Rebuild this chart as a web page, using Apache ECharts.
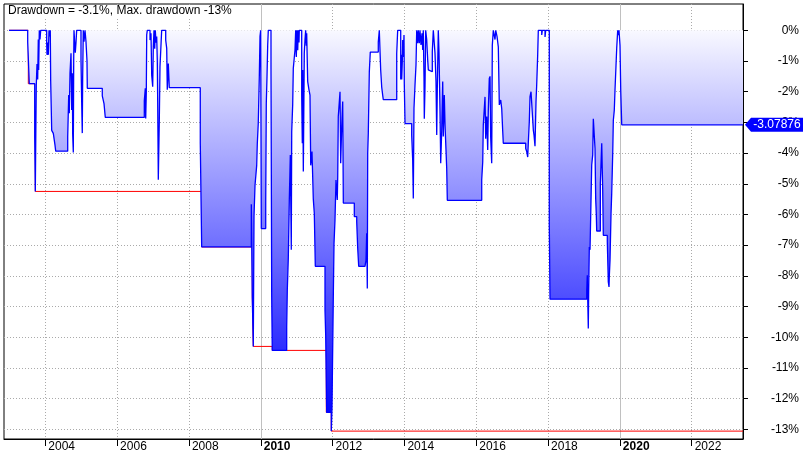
<!DOCTYPE html>
<html><head><meta charset="utf-8">
<script src="https://cdn.jsdelivr.net/npm/echarts@6/dist/echarts.min.js"></script>
<style>html,body{margin:0;padding:0;background:#fff}#c{width:809px;height:459px}</style>
</head><body><div id="c"></div>
<script>
const titleText = 'Drawdown = -3.1%, Max. drawdown -13%';
const yearTicks = [2004, 2006, 2008, 2010, 2012, 2014, 2016, 2018, 2020, 2022];
const decadeYears = [2010, 2020];
const pctTicks = [0, -1, -2, -3, -4, -5, -6, -7, -8, -9, -10, -11, -12, -13];

const ddDates = [
2002.989,2003.510,2003.554,2003.705,2003.722,2003.735,2003.749,2003.769,2003.788,2003.805,2003.816,2003.833,2003.852,2003.872,
2004.039,2004.047,2004.067,2004.084,2004.103,2004.123,2004.139,2004.150,2004.178,2004.223,2004.270,2004.290,2004.624,2004.652,
2004.668,2004.688,2004.716,2004.735,2004.752,2004.763,2004.780,2004.791,2004.799,2004.819,2004.835,2004.855,2004.874,2004.994,
2005.014,2005.030,2005.041,2005.058,2005.078,2005.106,2005.133,2005.161,2005.170,2005.587,2005.635,2005.671,2006.757,2006.785,
2006.796,2006.813,2006.824,2006.840,2006.916,2006.943,2006.963,2006.991,2007.008,2007.027,2007.047,2007.063,2007.083,2007.102,
2007.119,2007.130,2007.147,2007.175,2007.194,2007.241,2007.353,2007.381,2007.397,2007.425,2007.453,2008.316,2008.355,2009.737,
2009.764,2009.792,2009.812,2009.840,2009.887,2009.904,2009.931,2009.959,2009.979,2009.998,2010.015,2010.138,2010.154,2010.174,
2010.193,2010.210,2010.285,2010.305,2010.321,2010.722,2010.739,2010.767,2010.795,2010.823,2010.850,2010.862,2010.889,2010.906,
2010.953,2010.973,2010.990,2011.009,2011.029,2011.045,2011.065,2011.073,2011.140,2011.157,2011.168,2011.185,2011.212,2011.232,
2011.251,2011.268,2011.279,2011.307,2011.343,2011.371,2011.391,2011.427,2011.463,2011.491,2011.519,2011.789,2011.808,2011.836,
2011.964,2011.984,2012.020,2012.040,2012.067,2012.095,2012.131,2012.143,2012.159,2012.207,2012.226,2012.254,2012.282,2012.299,
2012.605,2012.672,2012.700,2012.727,2012.903,2012.931,2012.950,2012.967,2012.978,2012.995,2013.023,2013.050,2013.273,2013.301,
2013.340,2013.368,2013.396,2013.412,2013.786,2013.813,2013.897,2013.914,2013.925,2013.942,2013.953,2013.969,2013.989,2013.997,
2014.017,2014.203,2014.231,2014.248,2014.267,2014.295,2014.323,2014.343,2014.370,2014.387,2014.415,2014.434,2014.462,2014.490,
2014.510,2014.526,2014.546,2014.554,2014.574,2014.593,2014.621,2014.649,2014.666,2014.693,2014.777,2014.805,2014.852,2014.880,
2014.900,2014.916,2014.944,2014.964,2014.991,2015.011,2015.039,2015.067,2015.083,2015.111,2015.131,2015.178,2015.195,2016.153,
2016.181,2016.197,2016.245,2016.264,2016.292,2016.320,2016.336,2016.364,2016.384,2016.403,2016.431,2016.448,2016.476,2016.523,
2016.543,2016.579,2016.615,2016.643,2016.682,2016.710,2016.738,2016.754,2017.378,2017.406,2017.434,2017.450,2017.478,2017.498,
2017.526,2017.573,2017.590,2017.609,2017.637,2017.665,2017.684,2017.712,2017.729,2017.824,2017.840,2017.916,2017.935,2018.035,
2018.055,2019.077,2019.093,2019.121,2019.132,2019.141,2019.149,2019.169,2019.216,2019.244,2019.261,2019.288,2019.308,2019.327,
2019.344,2019.355,2019.456,2019.467,2019.495,2019.522,2019.539,2019.650,2019.678,2019.698,2019.706,2019.726,2019.754,2019.773,
2019.801,2019.818,2019.845,2019.865,2019.893,2019.912,2019.940,2019.957,2019.976,2020.004,2020.024,2020.052,2023.429
];
const ddValues = [
0,-0.38,-1.74,-3.48,-5.25,-3.48,-1.78,-1.1,-1.6,-0.3,-1.29,0,-0.3,0,
-0.4,-0.8,-0.4,-0.8,0,-0.2,0,-1.65,-3.26,-3.36,-3.74,-3.94,-3.48,-2.11,
-2.7,-1.4,-0.75,-2.6,-1.4,-3.41,-3.98,-1.0,0,-0.42,-0.73,-0.4,0,-0.97,
-2.4,-3.35,-1.5,0,-0.37,0,-0.37,-0.99,-1.89,-2.14,-2.39,-2.84,-2.3,-1.89,
-2.87,-2.0,-0.15,0,-0.32,-0.1,-1.46,-1.84,-0.53,0,-0.6,0,-0.4,-0.2,
-1.0,-2.32,-4.87,-2.92,-1.19,0,-0.32,-0.59,-1.94,-1.08,-1.87,-3.68,-7.06,-5.67,
-8.69,-10.3,-6.07,-5.05,-4.4,-3.68,-3.02,-1.55,-0.2,0,-6.46,-5.62,-2.38,-1.51,
-0.5,0,-1.25,-8.69,-10.43,-9.66,-8.47,-7.43,-5.54,-4.06,-7.15,-3.3,-2.43,-1.24,
-0.64,0,-0.87,0,-0.65,0,-0.4,0,-2.11,-3.68,-1.29,-4.6,-0.75,-0.3,
0,-0.5,-0.1,-1.67,-1.94,-2.11,-4.4,-3.95,-5.5,-5.96,-7.69,-9.12,-9.93,-12.45,
-13.06,-12.3,-8.69,-6.94,-6.19,-4.88,-5.53,-4.77,-2.81,-2.0,-4.33,-3.14,-2.32,-5.63,
-6.07,-6.24,-7.11,-7.69,-7.72,-7.48,-6.61,-8.41,-4.0,-3.35,-1.36,-0.71,-0.38,0,
-1.3,-1.85,-2.12,-2.26,-0.75,0,-1.6,-0.8,-1.6,-1.0,-0.32,-0.87,-0.15,-1.73,
-3.04,-3.41,-4.23,-5.48,-2.54,-1.79,-1.13,0,-0.42,0,-0.42,0,-0.48,-0.1,
-0.64,0,-1.56,-2.88,-1.84,0,-0.3,-0.97,-1.29,-1.35,-0.71,0,-0.75,-1.67,
-3.41,-1.94,0,-0.75,-2.6,-4.33,-3.27,-1.67,-3.46,-2.11,-3.08,-4.5,-5.54,-4.87,
-4.29,-3.09,-2.17,-3.53,-2.81,-3.9,-2.65,-1.57,-1.5,-3.5,-4.33,-0.49,0,-0.3,
0,-0.2,-0.54,-2.43,-2.27,-2.55,-3.3,-3.68,-3.85,-3.95,-4.13,-3.68,-2.98,-2.16,
-2.0,-2.92,-3.25,-3.41,-3.78,-2.32,-1.78,-0.8,0,-0.15,0,-0.22,0,-6.35,
-8.76,-8.46,-7.98,-9.72,-8.5,-7.76,-7.06,-7.15,-4.39,-4.06,-2.88,-2.82,-3.85,-5.5,
-6.01,-6.54,-5.0,-4.66,-3.68,-5.2,-6.68,-6.88,-8.2,-8.36,-8.02,-7.49,-5.97,-5.32,
-4.02,-2.93,-2.6,-1.94,-1.14,-0.59,0,-0.16,0,-0.49,-1.95,-3.07876,-3.07876
];

const maxDdDates = [2002.989, 2003.527, 2003.722, 2008.355, 2009.764, 2009.792, 2010.321, 2011.825, 2011.964, 2023.429];
const maxDdValues = [0, -1.74, -5.25, -7.06, -8.69, -10.3, -10.43, -12.45, -13.06, -13.06];

const X_MIN = 2002.85, X_MAX = 2023.429;
const Y_MIN = -13.317, Y_MAX = 0.857;
const FONT = '"Liberation Sans", Arial, Helvetica, sans-serif';

const ddData = ddDates.map((d, i) => [d, ddValues[i]]);
const maxDdData = maxDdDates.map((d, i) => [d, maxDdValues[i]]);
const lastIdx = ddValues.length - 1;
const lastLabel = String(ddValues[lastIdx]);

const chart = echarts.init(document.getElementById('c'), null, {renderer: 'canvas', width: 809, height: 459});

const fillGrad = new echarts.graphic.LinearGradient(0, 20, 0, 420, [
  {offset: 0, color: '#ffffff'},
  {offset: 1, color: '#0000ff'}
], true);

const option = {
  animation: false,
  backgroundColor: '#ffffff',
  textStyle: {fontFamily: FONT},
  title: {
    text: titleText, left: 5, top: 5, padding: [0, 3, 1, 3], backgroundColor: '#ffffff',
    textStyle: {fontSize: 12, fontWeight: 'normal', color: '#000', fontFamily: FONT}
  },
  grid: {left: 4, right: 66, top: 4, bottom: 20, show: true, borderColor: '#000', borderWidth: 1, backgroundColor: 'transparent', containLabel: false},
  xAxis: [{
    type: 'value', min: X_MIN, max: X_MAX, position: 'bottom',
    axisLine: {show: true, onZero: false, lineStyle: {color: '#000', width: 1}},
    axisTick: {show: true, customValues: yearTicks, length: 7, lineStyle: {color: '#000'}},
    axisLabel: {
      show: true, customValues: yearTicks, align: 'left', margin: 2, padding: [0, 0, 0, 3],
      fontSize: 12, color: '#000', fontFamily: FONT,
      formatter: v => (decadeYears.indexOf(Math.round(v)) >= 0 ? '{b|' : '{n|') + Math.round(v) + '}',
      rich: {
        b: {fontWeight: 'bold', fontSize: 12, color: '#000', fontFamily: FONT},
        n: {fontSize: 12, color: '#000', fontFamily: FONT}
      }
    },
    splitLine: {show: true, lineStyle: {color: '#aaaaaa', width: 1, type: [1, 2]}}
  }, {
    type: 'value', min: X_MIN, max: X_MAX, position: 'top',
    axisLine: {show: false}, axisTick: {show: false, customValues: decadeYears},
    axisLabel: {show: false, customValues: decadeYears},
    splitLine: {show: true, lineStyle: {color: '#c0c0c0', width: 1, type: 'solid'}}
  }],
  yAxis: {
    type: 'value', position: 'right', min: Y_MIN, max: Y_MAX,
    axisLine: {show: true, onZero: false, lineStyle: {color: '#000', width: 1}},
    axisTick: {show: true, customValues: pctTicks, length: 5, inside: false, lineStyle: {color: '#000'}},
    axisLabel: {show: true, customValues: pctTicks, align: 'right', margin: 56, fontSize: 12, color: '#000', fontFamily: FONT,
      formatter: v => Math.round(v) + '%'},
    splitLine: {show: true, lineStyle: {color: '#aaaaaa', width: 1, type: [1, 2]}}
  },
  series: [{
    name: 'Max. drawdown', type: 'line', xAxisIndex: 0, data: maxDdData, step: 'end', symbol: 'none',
    lineStyle: {color: '#ff0000', width: 1}, z: 2, silent: true
  }, {
    name: 'Drawdown', type: 'line', xAxisIndex: 0, data: ddData, step: 'end', symbol: 'none',
    lineStyle: {color: '#0000ff', width: 1.3},
    areaStyle: {color: fillGrad, opacity: 1, origin: 0},
    z: 3, silent: true,
    markPoint: {
      silent: true, animation: false,
      symbol: 'path://M0,7L6,0L58,0L58,14L6,14Z', symbolSize: [58, 14], symbolKeepAspect: false,
      symbolOffset: [31, 0],
      itemStyle: {color: '#0000ff'},
      label: {show: true, position: 'inside', offset: [3, 0], color: '#ffffff', fontSize: 12, fontFamily: FONT,
        formatter: () => lastLabel},
      data: [{coord: [ddDates[lastIdx], ddValues[lastIdx]]}]
    }
  }]
};
chart.setOption(option);
</script>
</body></html>
